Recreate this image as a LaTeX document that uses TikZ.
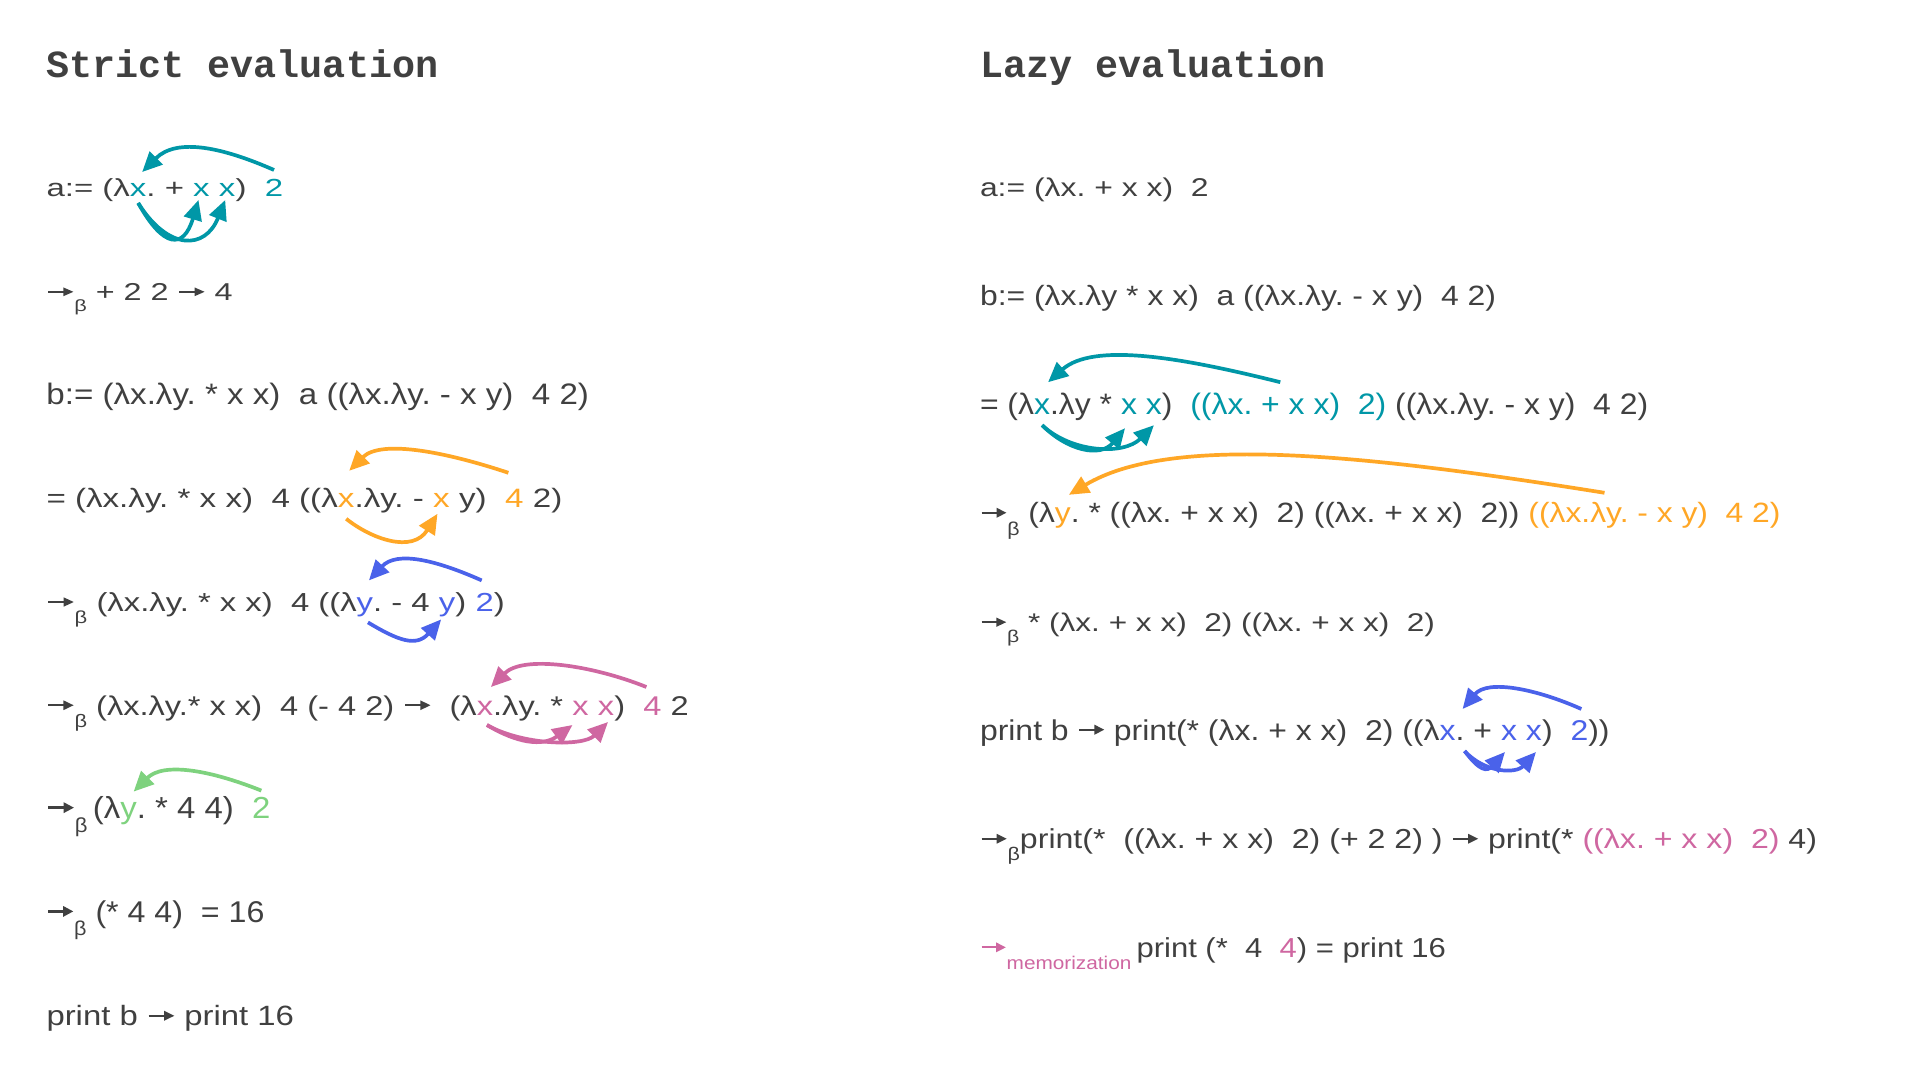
\documentclass[tikz,border=0pt]{standalone}
\usepackage{fontspec}
\setmainfont{Liberation Sans}
\newfontfamily\headfont{Liberation Mono}
\usepackage{graphicx}
\usetikzlibrary{arrows.meta,calc}
\frenchspacing
\definecolor{ink}{HTML}{404040}
\definecolor{cteal}{HTML}{0097A7}
\definecolor{corange}{HTML}{FFA726}
\definecolor{cblue}{HTML}{4A62EA}
\definecolor{cpink}{HTML}{CF67A1}
\definecolor{cgreen}{HTML}{7ED27E}
\newlength\lw
\def\fs{}\def\sx{1}
\newcommand\sub[1]{\raisebox{-0.45em}{\scalebox{0.67}{#1}}}
% inline arrow sign (low-level pgf picture)
\newcommand\ar{\begin{pgfpicture}%
  \pgfpathrectangle{\pgfpoint{0pt}{0pt}}{\pgfpoint{0.86em}{0.5em}}\pgfusepath{use as bounding box}%
  \pgfsetlinewidth{0.08em}%
  \pgfpathmoveto{\pgfpoint{0.05em}{0.36em}}\pgfpathlineto{\pgfpoint{0.6em}{0.36em}}\pgfusepath{stroke}%
  \pgfpathmoveto{\pgfpoint{0.83em}{0.36em}}\pgfpathlineto{\pgfpoint{0.52em}{0.54em}}\pgfpathlineto{\pgfpoint{0.52em}{0.18em}}\pgfpathclose\pgfusepath{fill}%
  \pgfsetbaseline{0pt}%
\end{pgfpicture}}
% measure: #1 name, #2 size (pt), #3 target width (px), #4 text
\newcommand\fitline[4]{%
  \settowidth{\lw}{\fontsize{#2pt}{#2pt}\selectfont #4}%
  \pgfmathsetmacro\tmpsx{#3*0.5/\lw}%
  \expandafter\xdef\csname sx@#1\endcsname{\tmpsx}%
  \expandafter\gdef\csname fs@#1\endcsname{\fontsize{#2pt}{#2pt}\selectfont}}
\newcommand\setl[1]{\expandafter\let\expandafter\sx\csname sx@#1\endcsname
  \expandafter\let\expandafter\fs\csname fs@#1\endcsname}
\newcommand\oneline[4]{\setl{#1}\begin{scope}[shift={(#2,#3)},xscale=\sx,transform shape]\node[txt] (#1) at (0,0) {#4};\end{scope}}
% texts
\newcommand\tLone{a:=\ (λx.\ +\ x\ x)\ \ 2}
\newcommand\tLtwo{\ar\sub{β}\ +\ 2\ 2\ \ar\ 4}
\newcommand\tLthree{b:=\ (λx.λy.\ *\ x\ x)\ \ a\ ((λx.λy.\ -\ x\ y)\ \ 4\ 2)}
\newcommand\tLfour{=\ (λx.λy.\ *\ x\ x)\ \ 4\ ((λx.λy.\ -\ x\ y)\ \ 4\ 2)}
\newcommand\tLfive{\ar\sub{β}\ (λx.λy.\ *\ x\ x)\ \ 4\ ((λy.\ -\ 4\ y)\ 2)}
\newcommand\tLsix{\ar\sub{β}\ (λx.λy.*\ x\ x)\ \ 4\ (-\ 4\ 2)\ \ar\ \ (λx.λy.\ *\ x\ x)\ \ 4\ 2}
\newcommand\tLseven{\ar\sub{β}\,(λy.\ *\ 4\ 4)\ \ 2}
\newcommand\tLeight{\ar\sub{β}\ (*\ 4\ 4)\ \ =\ 16}
\newcommand\tLnine{print\ b\ \ar\ print\ 16}
\newcommand\tRone{a:=\ (λx.\ +\ x\ x)\ \ 2}
\newcommand\tRtwo{b:=\ (λx.λy\ *\ x\ x)\ \ a\ ((λx.λy.\ -\ x\ y)\ \ 4\ 2)}
\newcommand\tRthree{=\ (λx.λy\ *\ x\ x)\ \ ((λx.\ +\ x\ x)\ \ 2)\ ((λx.λy.\ -\ x\ y)\ \ 4\ 2)}
\newcommand\tRfour{\ar\sub{β}\ (λy.\ *\ ((λx.\ +\ x\ x)\ \ 2)\ ((λx.\ +\ x\ x)\ \ 2))\ ((λx.λy.\ -\ x\ y)\ \ 4\ 2)}
\newcommand\tRfive{\ar\sub{β}\ *\ (λx.\ +\ x\ x)\ \ 2)\ ((λx.\ +\ x\ x)\ \ 2)}
\newcommand\tRsix{print\ b\ \ar\ print(*\ (λx.\ +\ x\ x)\ \ 2)\ ((λx.\ +\ x\ x)\ \ 2))}
\newcommand\tRseven{\ar\sub{β}print(*\ \ ((λx.\ +\ x\ x)\ \ 2)\ (+\ 2\ 2)\ )\ \ar\ print(*\ \textcolor{cpink}{((λx.\ +\ x\ x)\ \ 2)}\ 4)}
\newcommand\tReight{\textcolor{cpink}{\ar\sub{memorization}}\,print\ (*\ \ 4\ \ \textcolor{cpink}{4})\ =\ print\ 16}
\tikzset{
 txt/.style={inner sep=0pt, outer sep=0pt, anchor=base west, font=\fs, text=ink},
 head/.style={inner sep=0pt, outer sep=0pt, anchor=base west, font={\fontsize{19.2pt}{19.2pt}\headfont\bfseries}, text=ink},
 arr/.style={line width=1.85pt, -{Triangle[length=10pt,width=9pt]}},
}
\begin{document}%
\fitline{l1}{12.35}{236.5}{\tLone}%
\fitline{l2}{12.2}{186}{\tLtwo}%
\fitline{l3}{14.8}{542.5}{\tLthree}%
\fitline{l4}{13.3}{515.5}{\tLfour}%
\fitline{l5}{13.05}{455.5}{\tLfive}%
\fitline{l6}{13.55}{641.5}{\tLsix}%
\fitline{l7}{15.2}{221.5}{\tLseven}%
\fitline{l8}{15.0}{218}{\tLeight}%
\fitline{l9}{13.95}{247.5}{\tLnine}%
\fitline{r1}{12.85}{228.6}{\tRone}%
\fitline{r2}{13.95}{516}{\tRtwo}%
\fitline{r3}{14.8}{668}{\tRthree}%
\fitline{r4}{13.95}{798}{\tRfour}%
\fitline{r5}{12.8}{455}{\tRfive}%
\fitline{r6}{14.3}{629}{\tRsix}%
\fitline{r7}{13.7}{837}{\tRseven}%
\fitline{r8}{13.7}{466}{\tReight}%
\begin{tikzpicture}[x=0.5pt,y=0.5pt]
\fill[white] (0,0) rectangle (1920,-1080);
\useasboundingbox (0,0) rectangle (1920,-1080);

\node[head] (h1) at (46.5,-78) {Strict evaluation};
\node[head] (h2) at (980,-78) {Lazy evaluation};

% ---------- Left column ----------
\setl{l1}
\begin{scope}[shift={(46.5,-197)},xscale=\sx,transform shape]
\node[txt] (l1a) at (0,0) {a:=\ (λ};
\node[txt,text=cteal] (l1x) at (l1a.base east) {x};
\node[txt] (l1b) at (l1x.base east) {.\ +\ \null};
\node[txt,text=cteal] (l1x2) at (l1b.base east) {x};
\node[txt] (l1c) at (l1x2.base east) {\ \null};
\node[txt,text=cteal] (l1x3) at (l1c.base east) {x};
\node[txt] (l1d) at (l1x3.base east) {)\ \ \null};
\node[txt,text=cteal] (l1n) at (l1d.base east) {2};
\end{scope}

\oneline{l2}{46.5}{-300.6}{\tLtwo}
\oneline{l3}{46.5}{-404.2}{\tLthree}

\setl{l4}
\begin{scope}[shift={(46.5,-507.8)},xscale=\sx,transform shape]
\node[txt] (l4a) at (0,0) {=\ (λx.λy.\ *\ x\ x)\ \ 4\ ((λ};
\node[txt,text=corange] (l4x) at (l4a.base east) {x};
\node[txt] (l4b) at (l4x.base east) {.λy.\ -\ \null};
\node[txt,text=corange] (l4x2) at (l4b.base east) {x};
\node[txt] (l4c) at (l4x2.base east) {\ y)\ \ \null};
\node[txt,text=corange] (l4n) at (l4c.base east) {4};
\node[txt] (l4d) at (l4n.base east) {\ 2)};
\end{scope}

\setl{l5}
\begin{scope}[shift={(46.5,-611.4)},xscale=\sx,transform shape]
\node[txt] (l5a) at (0,0) {\ar\sub{β}\ (λx.λy.\ *\ x\ x)\ \ 4\ ((λ};
\node[txt,text=cblue] (l5y) at (l5a.base east) {y};
\node[txt] (l5b) at (l5y.base east) {.\ -\ 4\ \null};
\node[txt,text=cblue] (l5y2) at (l5b.base east) {y};
\node[txt] (l5c) at (l5y2.base east) {)\ \null};
\node[txt,text=cblue] (l5n) at (l5c.base east) {2};
\node[txt] (l5d) at (l5n.base east) {)};
\end{scope}

\setl{l6}
\begin{scope}[shift={(46.5,-715)},xscale=\sx,transform shape]
\node[txt] (l6a) at (0,0) {\ar\sub{β}\ (λx.λy.*\ x\ x)\ \ 4\ (-\ 4\ 2)\ \ar\ \ (λ};
\node[txt,text=cpink] (l6x) at (l6a.base east) {x};
\node[txt] (l6b) at (l6x.base east) {.λy.\ *\ \null};
\node[txt,text=cpink] (l6x2) at (l6b.base east) {x};
\node[txt] (l6c) at (l6x2.base east) {\ \null};
\node[txt,text=cpink] (l6x3) at (l6c.base east) {x};
\node[txt] (l6d) at (l6x3.base east) {)\ \ \null};
\node[txt,text=cpink] (l6n) at (l6d.base east) {4};
\node[txt] (l6e) at (l6n.base east) {\ 2};
\end{scope}

\setl{l7}
\begin{scope}[shift={(46.5,-818.6)},xscale=\sx,transform shape]
\node[txt] (l7a) at (0,0) {\ar\sub{β}\,(λ};
\node[txt,text=cgreen] (l7y) at (l7a.base east) {y};
\node[txt] (l7b) at (l7y.base east) {.\ *\ 4\ 4)\ \ \null};
\node[txt,text=cgreen] (l7n) at (l7b.base east) {2};
\end{scope}

\oneline{l8}{46.5}{-922.2}{\tLeight}
\oneline{l9}{46.5}{-1025.8}{\tLnine}

% ---------- Right column ----------
\oneline{r1}{980}{-197}{\tRone}
\oneline{r2}{980}{-305.6}{\tRtwo}

\setl{r3}
\begin{scope}[shift={(980,-414.2)},xscale=\sx,transform shape]
\node[txt] (r3a) at (0,0) {=\ (λ};
\node[txt,text=cteal] (r3x) at (r3a.base east) {x};
\node[txt] (r3b) at (r3x.base east) {.λy\ *\ \null};
\node[txt,text=cteal] (r3x2) at (r3b.base east) {x};
\node[txt] (r3c) at (r3x2.base east) {\ \null};
\node[txt,text=cteal] (r3x3) at (r3c.base east) {x};
\node[txt] (r3d) at (r3x3.base east) {)\ \ \null};
\node[txt,text=cteal] (r3g) at (r3d.base east) {((λx.\ +\ x\ x)\ \ 2)};
\node[txt] (r3e) at (r3g.base east) {\ ((λx.λy.\ -\ x\ y)\ \ 4\ 2)};
\end{scope}

\setl{r4}
\begin{scope}[shift={(980,-522.8)},xscale=\sx,transform shape]
\node[txt] (r4a) at (0,0) {\ar\sub{β}\ (λ};
\node[txt,text=corange] (r4y) at (r4a.base east) {y};
\node[txt] (r4b) at (r4y.base east) {.\ *\ ((λx.\ +\ x\ x)\ \ 2)\ ((λx.\ +\ x\ x)\ \ 2))\ \null};
\node[txt,text=corange] (r4g) at (r4b.base east) {((λx.λy.\ -\ x\ y)\ \ 4\ 2)};
\end{scope}

\oneline{r5}{980}{-631.4}{\tRfive}

\setl{r6}
\begin{scope}[shift={(980,-740)},xscale=\sx,transform shape]
\node[txt] (r6a) at (0,0) {print\ b\ \ar\ print(*\ (λx.\ +\ x\ x)\ \ 2)\ ((λ};
\node[txt,text=cblue] (r6x) at (r6a.base east) {x};
\node[txt] (r6b) at (r6x.base east) {.\ +\ \null};
\node[txt,text=cblue] (r6x2) at (r6b.base east) {x};
\node[txt] (r6c) at (r6x2.base east) {\ \null};
\node[txt,text=cblue] (r6x3) at (r6c.base east) {x};
\node[txt] (r6d) at (r6x3.base east) {)\ \ \null};
\node[txt,text=cblue] (r6n) at (r6d.base east) {2};
\node[txt] (r6e) at (r6n.base east) {))};
\end{scope}

\oneline{r7}{980}{-848.6}{\tRseven}
\oneline{r8}{980}{-957.2}{\tReight}

% ---------- Arrows ----------
\draw[arr,cteal] ($(l1n.base)+(0,27)$) .. controls +(-50,22) and +(35,35) .. ($(l1x.base)+(4,25)$);
\draw[arr,cteal] ($(l1x.base)+(0,-6)$) .. controls +(25,-45) and +(-15,-50) .. ($(l1x2.base)+(-3,-3)$);
\draw[arr,cteal] ($(l1x.base)+(0,-6)$) .. controls +(30,-48) and +(-20,-50) .. ($(l1x3.base)+(-2,-3)$);
\draw[arr,corange] ($(l4n.base)+(-6,35)$) .. controls +(-60,20) and +(32,32) .. ($(l4x.base)+(3,37)$);
\draw[arr,corange] ($(l4x.base)+(0,-11)$) .. controls +(25,-20) and +(-25,-40) .. ($(l4x2.base)+(-4,-6)$);
\draw[arr,cblue] ($(l5n.base)+(-3,31)$) .. controls +(-45,20) and +(28,30) .. ($(l5y.base)+(4,31)$);
\draw[arr,cblue] ($(l5y.base)+(3,-11)$) .. controls +(30,-18) and +(-25,-28) .. ($(l5y2.base)+(-6,-8)$);
\draw[arr,cpink] ($(l6n.base)+(-6,28)$) .. controls +(-55,22) and +(32,32) .. ($(l6x.base)+(6,28)$);
\draw[arr,cpink] ($(l6x.base)+(2,-10)$) .. controls +(30,-18) and +(-30,-22) .. ($(l6x2.base)+(-8,-10)$);
\draw[arr,cpink] ($(l6x.base)+(2,-10)$) .. controls +(35,-20) and +(-25,-25) .. ($(l6x3.base)+(2,-7)$);
\draw[arr,cgreen] ($(l7n.base)+(0,28)$) .. controls +(-50,20) and +(30,30) .. ($(l7y.base)+(5,27)$);
\draw[arr,cteal] ($(r3g.base)+(-8,32)$) .. controls +(-100,25) and +(45,40) .. ($(r3x.base)+(6,32)$);
\draw[arr,cteal] ($(r3x.base)+(0,-11)$) .. controls +(25,-25) and +(-25,-30) .. ($(r3x2.base)+(-4,-14)$);
\draw[arr,cteal] ($(r3x.base)+(0,-11)$) .. controls +(30,-28) and +(-30,-30) .. ($(r3x3.base)+(0,-11)$);
\draw[arr,corange] ($(r4g.base)+(-50,30)$) .. controls +(-250,40) and +(100,60) .. ($(r4y.base)+(6,28)$);
\draw[arr,cblue] ($(r6n.base)+(2,31)$) .. controls +(-45,20) and +(25,30) .. ($(r6x.base)+(15,31)$);
\draw[arr,cblue] ($(r6x.base)+(17,-11)$) .. controls +(15,-20) and +(-18,-20) .. ($(r6x2.base)+(-4,-12)$);
\draw[arr,cblue] ($(r6x.base)+(17,-11)$) .. controls +(20,-22) and +(-20,-22) .. ($(r6x3.base)+(2,-12)$);
\end{tikzpicture}%
\end{document}
